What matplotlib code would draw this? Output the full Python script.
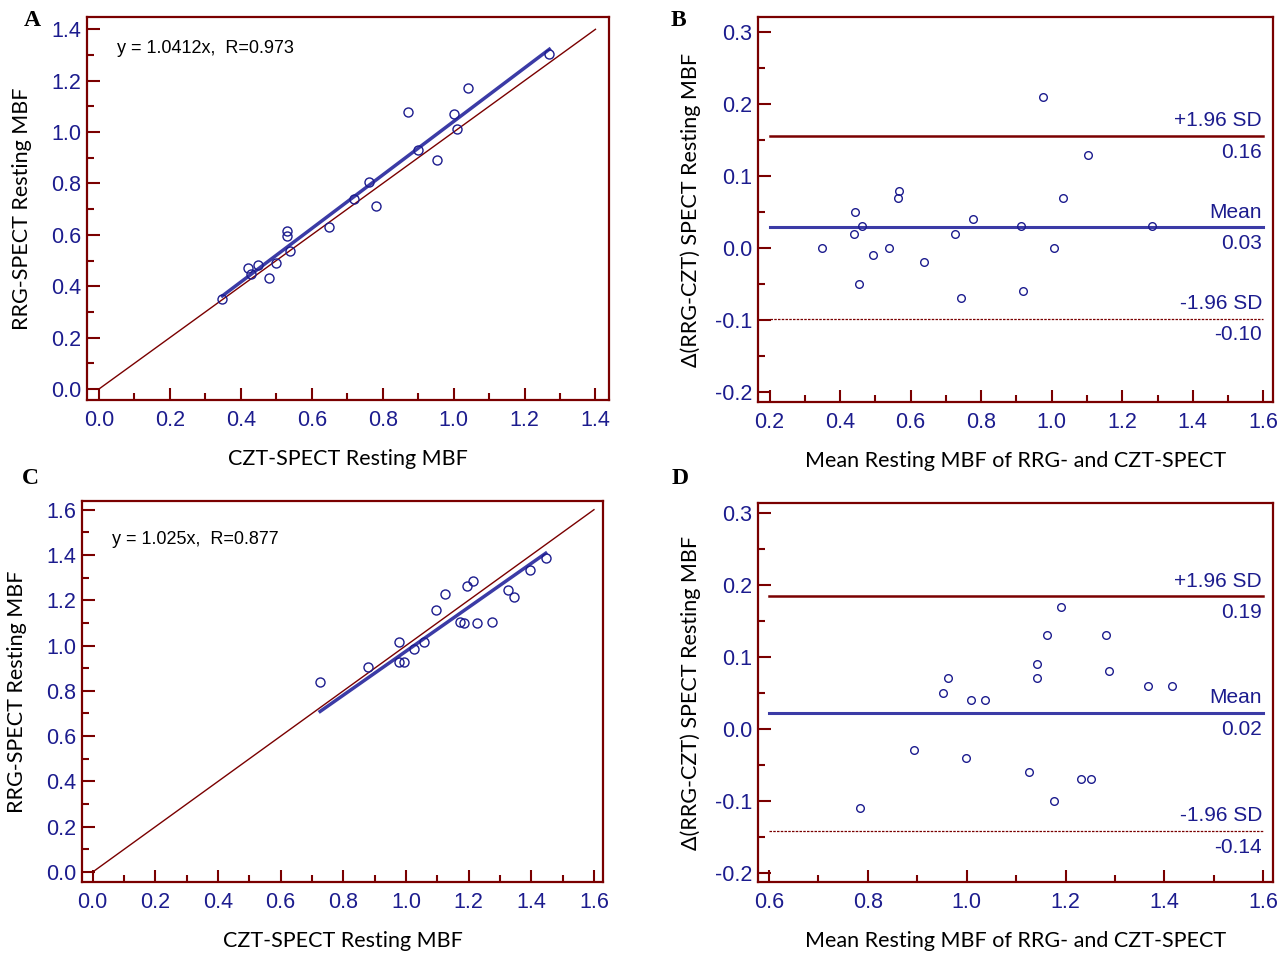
import matplotlib
matplotlib.use("Agg")
import matplotlib.pyplot as plt
from matplotlib.ticker import MultipleLocator, FormatStrFormatter

NAVY = "#1c1c8e"
LINE_BLUE = "#3b3ba6"
DARKRED = "#7a0000"

# Panel A: CZT vs RRG resting MBF (set 1)
a_czt = [0.348, 0.419, 0.428, 0.448, 0.480, 0.499, 0.530, 0.530, 0.539, 0.649,
         0.718, 0.761, 0.780, 0.870, 0.900, 0.952, 1.001, 1.010, 1.041, 1.270]
a_rrg = [0.349, 0.471, 0.449, 0.481, 0.431, 0.489, 0.614, 0.597, 0.538, 0.630,
         0.739, 0.804, 0.712, 1.079, 0.930, 0.890, 1.070, 1.010, 1.170, 1.303]
a_slope, a_icpt = 1.0412, 0.0
a_text = "y = 1.0412x,  R=0.973"

# Panel B: Bland-Altman set 1
b_mean = [0.974, 1.104, 0.567, 0.563, 1.033, 0.443, 0.462, 0.777, 0.914, 1.284,
          0.438, 0.727, 0.349, 0.538, 1.007, 0.493, 0.638, 0.454, 0.743, 0.919]
b_diff = [0.21, 0.13, 0.08, 0.07, 0.07, 0.05, 0.03, 0.04, 0.03, 0.03,
          0.02, 0.02, 0.00, 0.00, 0.00, -0.01, -0.02, -0.05, -0.07, -0.06]
b_lines = [0.156, 0.029, -0.098]
b_vals = ["0.16", "0.03", "-0.10"]

# Panel C: CZT vs RRG resting MBF (set 2)
c_czt = [0.726, 0.878, 0.978, 0.978, 0.995, 1.027, 1.058, 1.095, 1.126, 1.173,
         1.184, 1.195, 1.215, 1.227, 1.275, 1.326, 1.346, 1.395, 1.446]
c_rrg = [0.839, 0.907, 1.016, 0.927, 0.927, 0.986, 1.017, 1.158, 1.226, 1.105,
         1.098, 1.264, 1.285, 1.098, 1.105, 1.246, 1.214, 1.335, 1.385]
c_slope, c_icpt = 0.97, 0.005
c_text = "y = 1.025x,  R=0.877"

# Panel D: Bland-Altman set 2
d_mean = [1.191, 1.162, 1.282, 1.142, 0.963, 1.142, 1.287, 0.953, 1.009, 1.037,
          1.366, 1.415, 0.894, 0.999, 1.126, 1.232, 1.251, 1.177, 0.784]
d_diff = [0.17, 0.13, 0.13, 0.09, 0.07, 0.07, 0.08, 0.05, 0.04, 0.04,
          0.06, 0.06, -0.03, -0.04, -0.06, -0.07, -0.07, -0.10, -0.11]
d_lines = [0.184, 0.022, -0.142]
d_vals = ["0.19", "0.02", "-0.14"]

sd_names = ["+1.96 SD", "Mean", "-1.96 SD"]

plt.rcParams["font.family"] = ["Liberation Sans", "DejaVu Sans"]
LABEL_FONT = ["Lato", "DejaVu Sans"]

fig = plt.figure(figsize=(12.88, 9.57), dpi=100)


def style_axes(ax, xmajor, xminor, ymajor, yminor, xfmt, yfmt):
    for s in ax.spines.values():
        s.set_color(DARKRED)
        s.set_linewidth(1.6)
    ax.xaxis.set_major_locator(MultipleLocator(xmajor))
    ax.xaxis.set_minor_locator(MultipleLocator(xminor))
    ax.yaxis.set_major_locator(MultipleLocator(ymajor))
    ax.yaxis.set_minor_locator(MultipleLocator(yminor))
    ax.xaxis.set_major_formatter(FormatStrFormatter(xfmt))
    ax.yaxis.set_major_formatter(FormatStrFormatter(yfmt))
    ax.tick_params(which="both", direction="in", colors=DARKRED, labelcolor=NAVY,
                   width=1.5, top=False, right=False, labelsize=15.5)
    ax.tick_params(which="major", length=9)
    ax.tick_params(which="minor", length=5)
    ax.tick_params(axis="x", which="major", pad=7)
    ax.tick_params(axis="y", which="major", pad=4)


def scatter_panel(ax, x, y, slope, icpt, text, ty, lim_max, xlim, ylim):
    ax.plot([0, lim_max], [0, lim_max], color=DARKRED, lw=1.0, zorder=2)
    x0, x1 = min(x), max(x)
    ax.plot([x0, x1], [slope * x0 + icpt, slope * x1 + icpt], color=LINE_BLUE, lw=2.5, zorder=3)
    ax.plot(x, y, "o", mfc="none", mec=NAVY, ms=6.5, mew=1.0, zorder=4)
    ax.set_xlim(*xlim)
    ax.set_ylim(*ylim)
    style_axes(ax, 0.2, 0.1, 0.2, 0.1, "%.1f", "%.1f")
    ax.text(0.058, ty, text, transform=ax.transAxes, fontsize=13, color="black", va="center")
    ax.set_xlabel("CZT-SPECT Resting MBF", family=LABEL_FONT, fontsize=15.5, labelpad=13)
    ax.set_ylabel("RRG-SPECT Resting MBF", family=LABEL_FONT, fontsize=15.5, labelpad=14)


def ba_panel(ax, x, d, lines, vals, xr, xlim, ylim):
    colors = [DARKRED, LINE_BLUE, DARKRED]
    widths = [1.8, 2.2, 0.9]
    styles = ["-", "-", (0, (2, 1))]
    for yv, c, w, ls, name, v in zip(lines, colors, widths, styles, sd_names, vals):
        ax.plot(xr, [yv, yv], color=c, lw=w, ls=ls, zorder=2)
        ax.annotate(name, (xr[1], yv), xytext=(-1, 4), textcoords="offset points",
                    ha="right", va="bottom", color=NAVY, fontsize=15)
        ax.annotate(v, (xr[1], yv), xytext=(-1, -5), textcoords="offset points",
                    ha="right", va="top", color=NAVY, fontsize=15)
    ax.plot(x, d, "o", mfc="none", mec=NAVY, ms=5.5, mew=1.0, zorder=4)
    ax.set_xlim(*xlim)
    ax.set_ylim(*ylim)
    style_axes(ax, 0.2, 0.1, 0.1, 0.05, "%.1f", "%.1f")
    ax.set_xlabel("Mean Resting MBF of RRG- and CZT-SPECT", family=LABEL_FONT, fontsize=15.5, labelpad=13)
    ax.set_ylabel("\u0394(RRG-CZT) SPECT Resting MBF", family=LABEL_FONT, fontsize=15.5, labelpad=10)


axA = fig.add_axes([0.0675, 0.582, 0.405, 0.400])
axB = fig.add_axes([0.5885, 0.580, 0.400, 0.402])
axC = fig.add_axes([0.0637, 0.0784, 0.4045, 0.398])
axD = fig.add_axes([0.5885, 0.0784, 0.400, 0.396])

scatter_panel(axA, a_czt, a_rrg, a_slope, a_icpt, a_text, 0.919, 1.4, (-0.034, 1.437), (-0.043, 1.447))
ba_panel(axB, b_mean, b_diff, b_lines, b_vals, (0.2, 1.6), (0.167, 1.628), (-0.214, 0.321))
scatter_panel(axC, c_czt, c_rrg, c_slope, c_icpt, c_text, 0.90, 1.6, (-0.034, 1.629), (-0.044, 1.638))
ba_panel(axD, d_mean, d_diff, d_lines, d_vals, (0.6, 1.6), (0.578, 1.620), (-0.213, 0.314))

for letter, (fx, fy) in zip("ABCD", [(32, 20), (678, 20), (30, 478), (680, 478)]):
    fig.text(fx / 1288, 1 - fy / 957, letter, family=["Liberation Serif", "DejaVu Serif"],
             fontweight="bold", fontsize=17, ha="center", va="center")

fig.savefig("out.png", dpi=100)
